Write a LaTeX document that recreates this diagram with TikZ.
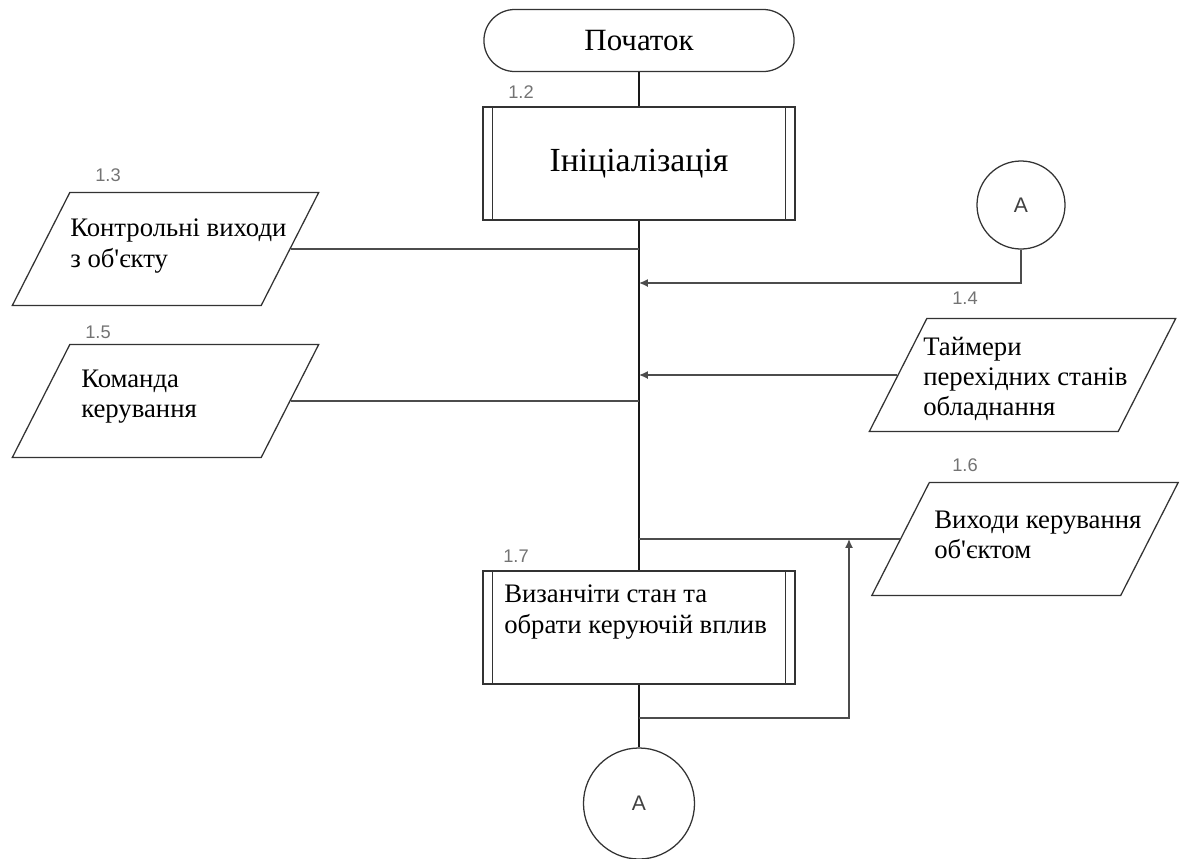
\documentclass[tikz,border=0pt]{standalone}
\usepackage{fontspec}
\setmainfont{Liberation Serif}
\newfontfamily\numfont{Liberation Sans}
\usetikzlibrary{arrows.meta}

\begin{document}
\begin{tikzpicture}[x=0.025cm,y=-0.025cm,
    every node/.style={font=\fontsize{19}{21.5}\selectfont},
    terminal/.style={draw=black!80,line width=0.9pt,rectangle,rounded corners=0.77cm,
      minimum width=7.75cm,minimum height=1.55cm,font=\fontsize{22}{24}\selectfont},
    procbox/.style={draw=black!80,line width=0.9pt,rectangle,
      minimum width=7.8cm,minimum height=2.825cm,
      path picture={\draw[black!80,line width=0.9pt]
        ([xshift=0.235cm]path picture bounding box.north west) -- ([xshift=0.235cm]path picture bounding box.south west)
        ([xshift=-0.235cm]path picture bounding box.north east) -- ([xshift=-0.235cm]path picture bounding box.south east);}},
    iobox/.style={draw=black!80,line width=0.9pt,rectangle,xslant=0.509,
      minimum width=6.22cm,minimum height=2.82cm,inner sep=0pt},
    conncirc/.style={draw=black!80,line width=0.9pt,circle,inner sep=0pt,
      font={\numfont\fontsize{15}{17}\selectfont},text=black!75},
    numlabel/.style={font={\numfont\fontsize{13}{15}\selectfont},text=black!55},
    boxtext/.style={align=left,inner sep=0pt,anchor=west},
    mainline/.style={draw=black!90,line width=1.3pt},
    conn/.style={draw=black!70,line width=1.1pt},
    arr/.style={-{Latex[length=2.2mm,width=2mm]}}]
      \useasboundingbox (0,0) rectangle (1185,858);
      \node[terminal] (start) at (639,40.5) {Початок};
      \node[procbox,font=\fontsize{24}{26}\selectfont] (init) at (639,163.5) {Ініціалізація};
      \node[procbox] (decide) at (639,627.5) {};
      \node[iobox] (p13) at (165.5,249) {};
      \node[iobox] (p15) at (165.5,401) {};
      \node[iobox] (p14) at (1022.5,375) {};
      \node[iobox] (p16) at (1025,539) {};
      \node[conncirc,minimum size=2.2cm] (atop) at (1021,205) {A};
      \node[conncirc,minimum size=2.775cm] (abot) at (639,803.5) {A};
      \node[boxtext] (t13) at (70,246) {Контрольні виходи\\з об\textquotesingle єкту};
      \node[boxtext] (t15) at (81,397) {Команда\\керування};
      \node[boxtext] (t14) at (923,379) {Таймери\\перехідних станів\\обладнання};
      \node[boxtext] (t16) at (934,535) {Виходи керування\\об\textquotesingle єктом};
      \node[boxtext] (t17) at (504,612) {Визанчіти стан та\\обрати керуючій вплив};
      \node[numlabel] (n12) at (521,92) {1.2};
      \node[numlabel] (n13) at (108,175) {1.3};
      \node[numlabel] (n15) at (98,332) {1.5};
      \node[numlabel] (n14) at (965,298) {1.4};
      \node[numlabel] (n16) at (965,465) {1.6};
      \node[numlabel] (n17) at (516,556) {1.7};
      \coordinate (ja) at (639,283);
      \coordinate (jfb) at (639,718);
      \coordinate (fb) at (849,539);
      \begin{scope}[mainline]
        \draw (start) -- (init);
        \draw (init) -- (decide);
        \draw (decide) -- (abot);
      \end{scope}
      \begin{scope}[conn]
        \draw (p13.east) -- (p13.east -| init.south);
        \draw (p15.east) -- (p15.east -| init.south);
        \draw (p16.west) -- (p16.west -| init.south);
        \draw[arr] (atop.south) |- (ja);
        \draw[arr] (p14.west) -- (p14.west -| init.south);
        \draw[arr] (jfb) -| (fb);
      \end{scope}
    \end{tikzpicture}
\end{document}
